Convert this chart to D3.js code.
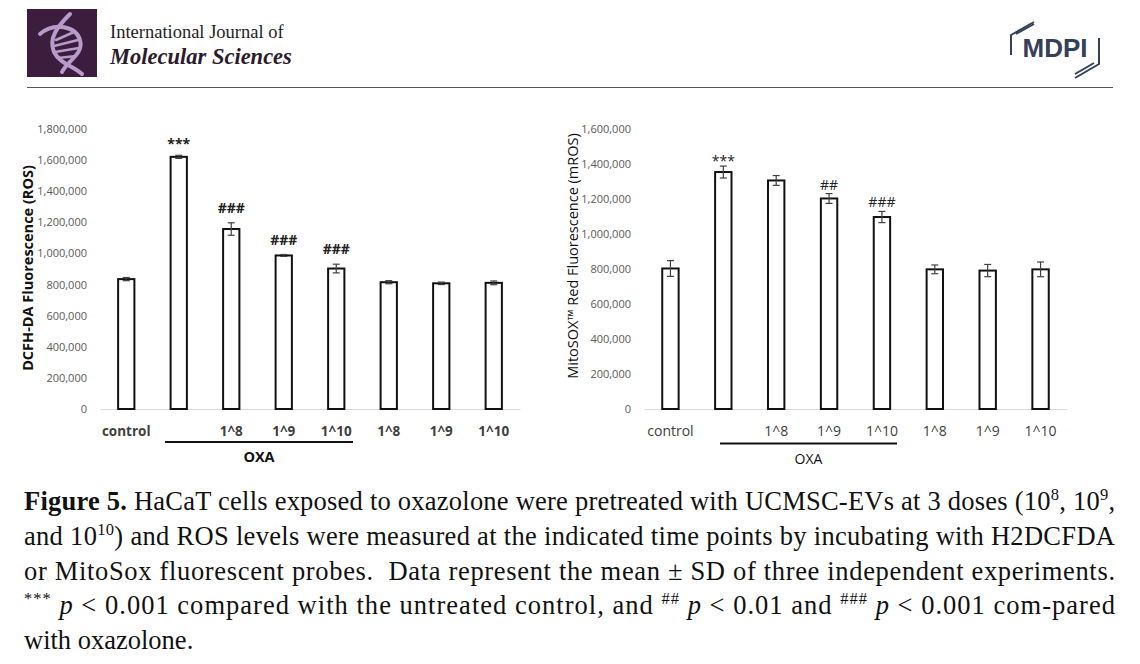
<!DOCTYPE html>
<html>
<head>
<meta charset="utf-8">
<script src="https://cdn.jsdelivr.net/npm/d3@7"></script>
<style>
  html, body { margin: 0; padding: 0; background: #fff; }
  svg { display: block; }
</style>
</head>
<body>
<div id="container"></div>
<script>
// bar groups, same order in both panels
const groups = ["control", "oxa", "oxa_1e8", "oxa_1e9", "oxa_1e10", "ev_1e8", "ev_1e9", "ev_1e10"];
const groupLabels = ["control", "", "1^8", "1^9", "1^10", "1^8", "1^9", "1^10"];

// left panel: DCFH-DA (ROS)
const rosMean = [835000, 1621000, 1157000, 987000, 903000, 815000, 808000, 811000];
const rosSD = [10000, 10000, 40000, 6000, 28000, 10000, 8000, 12000];
const rosSig = ["", "***", "###", "###", "###", "", "", ""];
const rosTicks = [0, 200000, 400000, 600000, 800000, 1000000, 1200000, 1400000, 1600000, 1800000];

// right panel: MitoSOX (mROS)
const mrosMean = [803000, 1354000, 1306000, 1203000, 1097000, 798000, 791000, 798000];
const mrosSD = [45000, 34000, 28000, 28000, 32000, 25000, 35000, 42000];
const mrosSig = ["", "***", "", "##", "###", "", "", ""];
const mrosTicks = [0, 200000, 400000, 600000, 800000, 1000000, 1200000, 1400000, 1600000];

const width = 1140;
const height = 664;
const fmt = d3.format(",");

const svg = d3.select("#container").append("svg")
  .attr("width", width)
  .attr("height", height);

svg.append("rect").attr("width", width).attr("height", height).attr("fill", "#fff");

// ---------- header ----------
const head = svg.append("g");
head.append("rect").attr("x", 27).attr("y", 9).attr("width", 70).attr("height", 68).attr("fill", "#3d1d3d");
const dna = head.append("g").attr("fill", "none").attr("stroke", "#b79bc8").attr("stroke-linecap", "round");
dna.append("path").attr("stroke-width", 4).attr("d", "M70,14 C58,26 48,38 54,52 C60,64 74,66 82,74");
dna.append("path").attr("stroke-width", 4).attr("d", "M40,34 C54,22 76,26 80,40 C84,54 68,60 62,72");
[[56, 40, 74, 32], [54, 46, 78, 40], [55, 52, 79, 48], [58, 58, 76, 56]].forEach(r => {
  dna.append("line").attr("stroke-width", 2.5)
    .attr("x1", r[0]).attr("y1", r[1]).attr("x2", r[2]).attr("y2", r[3]);
});

head.append("text").attr("x", 110).attr("y", 38)
  .attr("font-family", "Liberation Serif, serif").attr("font-size", 18.5).attr("fill", "#1e1e1e")
  .text("International Journal of");
head.append("text").attr("x", 110).attr("y", 64)
  .attr("font-family", "Liberation Serif, serif").attr("font-size", 22.5).attr("font-weight", "bold")
  .attr("font-style", "italic").attr("fill", "#2a1a2c")
  .text("Molecular Sciences");

head.append("line").attr("x1", 27).attr("x2", 1113).attr("y1", 87.5).attr("y2", 87.5)
  .attr("stroke", "#555").attr("stroke-width", 1);

// MDPI logo
const logo = head.append("g").attr("fill", "none").attr("stroke", "#34405a").attr("stroke-width", 2);
logo.append("path").attr("d", "M1011,55 L1011,35 L1034,22");
logo.append("path").attr("d", "M1016,34 L1034,24");
logo.append("path").attr("d", "M1099,38 L1099,64 L1075,78");
logo.append("path").attr("d", "M1094,63 L1075,74");
head.append("text").attr("x", 1055).attr("y", 57).attr("text-anchor", "middle")
  .attr("font-family", "Liberation Sans, Arial, sans-serif").attr("font-size", 26)
  .attr("font-weight", "bold").attr("fill", "#34405a").text("MDPI");

// ---------- bar panels ----------
function drawPanel(opt) {
  const g = svg.append("g");
  const x = d3.scaleBand().domain(groups).range(opt.xRange).paddingInner(0.69).paddingOuter(0.345);
  const y = d3.scaleLinear().domain(opt.yDomain).range([409, 129]);

  // y tick labels (no axis line)
  const ya = g.append("g").attr("transform", `translate(${opt.xRange[0]},0)`)
    .call(d3.axisLeft(y).tickValues(opt.ticks).tickSize(0).tickPadding(13).tickFormat(fmt));
  ya.select(".domain").remove();
  ya.selectAll("text").attr("font-family", "Open Sans, sans-serif").attr("font-size", 11)
    .attr("fill", "#595959");

  // category axis
  const xa = g.append("g").attr("transform", "translate(0,409)")
    .call(d3.axisBottom(x).tickSize(0).tickPadding(17).tickFormat((d, i) => groupLabels[i]));
  xa.select(".domain").attr("stroke", "#d9d9d9").attr("stroke-width", 1.2);
  xa.selectAll("text").attr("font-family", "Open Sans, sans-serif").attr("font-size", opt.labelSize)
    .attr("font-weight", opt.labelWeight).attr("fill", opt.labelColor);

  // bars
  g.selectAll("rect.bar").data(opt.mean).enter().append("rect")
    .attr("class", "bar")
    .attr("x", (d, i) => x(groups[i]))
    .attr("y", d => y(d))
    .attr("width", x.bandwidth())
    .attr("height", d => y(0) - y(d))
    .attr("fill", "#fff").attr("stroke", "#111").attr("stroke-width", 2);

  // error bars
  const eb = g.append("g").attr("stroke", "#404040").attr("stroke-width", 1.2);
  opt.mean.forEach((m, i) => {
    const cx = x(groups[i]) + x.bandwidth() / 2;
    const lo = y(m - opt.sd[i]), hi = y(m + opt.sd[i]);
    eb.append("line").attr("x1", cx).attr("x2", cx).attr("y1", lo).attr("y2", hi);
    eb.append("line").attr("x1", cx - 3.5).attr("x2", cx + 3.5).attr("y1", lo).attr("y2", lo);
    eb.append("line").attr("x1", cx - 3.5).attr("x2", cx + 3.5).attr("y1", hi).attr("y2", hi);
  });

  // significance marks
  g.selectAll("text.sig").data(opt.sig).enter().append("text")
    .attr("class", "sig")
    .attr("x", (d, i) => x(groups[i]) + x.bandwidth() / 2)
    .attr("y", (d, i) => y(opt.mean[i] + opt.sd[i]) - (d === "***" ? opt.sigGap - 4 : opt.sigGap))
    .attr("text-anchor", "middle")
    .attr("font-family", "Open Sans, sans-serif").attr("font-size", 14)
    .attr("font-weight", opt.sigWeight)
    .attr("fill", "#222")
    .text(d => d);

  // OXA bracket
  g.append("line").attr("x1", opt.oxaLine[0]).attr("x2", opt.oxaLine[1])
    .attr("y1", opt.oxaY).attr("y2", opt.oxaY).attr("stroke", "#111").attr("stroke-width", 1.8);
  g.append("text").attr("x", (opt.oxaLine[0] + opt.oxaLine[1]) / 2).attr("y", opt.oxaY + 20)
    .attr("text-anchor", "middle").attr("font-family", "Open Sans, sans-serif")
    .attr("font-size", opt.oxaSize).attr("font-weight", opt.labelWeight).attr("fill", "#111")
    .text("OXA");

  // y title
  g.append("text")
    .attr("transform", `translate(${opt.titleX},${opt.titleY}) rotate(-90)`)
    .attr("text-anchor", "middle").attr("font-family", "Open Sans, sans-serif")
    .attr("font-size", opt.titleSize).attr("font-weight", opt.titleWeight).attr("fill", "#111")
    .text(opt.title);
}

drawPanel({
  xRange: [100, 520], yDomain: [0, 1800000], ticks: rosTicks,
  mean: rosMean, sd: rosSD, sig: rosSig, sigGap: 10, sigWeight: "bold",
  labelSize: 13.5, labelWeight: "bold", labelColor: "#404040", oxaSize: 14.5,
  oxaLine: [165, 353], oxaY: 442,
  title: "DCFH-DA Fluorescence (ROS)", titleX: 33, titleY: 268, titleWeight: "bold", titleSize: 14.5
});

drawPanel({
  xRange: [644, 1067], yDomain: [0, 1600000], ticks: mrosTicks,
  mean: mrosMean, sd: mrosSD, sig: mrosSig, sigGap: 4, sigWeight: "normal",
  labelSize: 14, labelWeight: "normal", labelColor: "#404040", oxaSize: 14,
  oxaLine: [720, 897], oxaY: 443.5,
  title: "MitoSOX\u2122 Red Fluorescence (mROS)", titleX: 578, titleY: 256, titleWeight: "normal", titleSize: 14.5
});

// ---------- caption ----------
const cap = svg.append("g").attr("font-family", "Liberation Serif, serif").attr("font-size", 26.5).attr("fill", "#111");
const capLines = [
  [{t: "Figure 5.", b: 1}, {t: " HaCaT cells exposed to oxazolone were pretreated with UCMSC-EVs at 3 doses (10"}, {t: "8", s: 1}, {t: ", 10"}, {t: "9", s: 1}, {t: ","}],
  [{t: "and 10"}, {t: "10", s: 1}, {t: ") and ROS levels were measured at the indicated time points by incubating with H2DCFDA"}],
  [{t: "or MitoSox fluorescent probes.  Data represent the mean \u00b1 SD of three independent experiments."}],
  [{t: "***", s: 1}, {t: " "}, {t: "p", i: 1}, {t: " < 0.001 compared with the untreated control, and "}, {t: "##", s: 1}, {t: " "}, {t: "p", i: 1}, {t: " < 0.01 and "}, {t: "###", s: 1}, {t: " "}, {t: "p", i: 1}, {t: " < 0.001 com-pared"}],
  [{t: "with oxazolone."}]
];
const capY = [510, 545, 580, 614, 649];
capLines.forEach((parts, li) => {
  const t = cap.append("text").attr("x", 24).attr("y", capY[li]).attr("xml:space", "preserve");
  if (li < 4) t.attr("textLength", 1091).attr("lengthAdjust", "spacing");
  parts.forEach(p => {
    const ts = t.append("tspan").text(p.t);
    if (p.b) ts.attr("font-weight", "bold");
    if (p.i) ts.attr("font-style", "italic");
    if (p.s) ts.attr("font-size", 16.5).attr("dy", -10);
  });
  // put following text back on the baseline
  t.selectAll("tspan").each(function(p, k) {
    const prev = parts[k - 1];
    if (k > 0 && prev.s && !parts[k].s) d3.select(this).attr("dy", 10);
  });
});
</script>
</body>
</html>
